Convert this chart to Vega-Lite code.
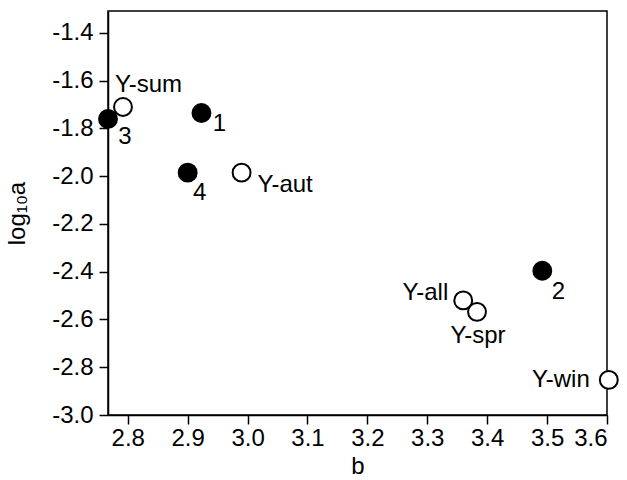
{
  "$schema": "https://vega.github.io/schema/vega-lite/v6.json",
  "width": 499,
  "height": 404,
  "autosize": {"type": "none"},
  "padding": {"left": 108, "top": 11, "right": 20, "bottom": 65},
  "background": "white",
  "config": {
    "font": "Liberation Sans",
    "view": {"stroke": "black", "strokeWidth": 1.5},
    "axis": {
      "domainColor": "black", "domainWidth": 1.5, "tickColor": "black", "tickWidth": 1.5, "tickSize": 9,
      "labelFont": "Liberation Sans", "labelFontSize": 24, "labelColor": "black",
      "titleFont": "Liberation Sans", "titleFontSize": 24, "titleColor": "black", "titleFontWeight": "normal",
      "grid": false
    }
  },
  "data": {"values": [
    {"label": "Y-sum", "b": 2.792, "loga": -1.71, "type": "open"},
    {"label": "3", "b": 2.767, "loga": -1.76, "type": "filled"},
    {"label": "1", "b": 2.923, "loga": -1.735, "type": "filled"},
    {"label": "4", "b": 2.9, "loga": -1.985, "type": "filled"},
    {"label": "Y-aut", "b": 2.99, "loga": -1.985, "type": "open"},
    {"label": "2", "b": 3.492, "loga": -2.396, "type": "filled"},
    {"label": "Y-all", "b": 3.36, "loga": -2.52, "type": "open"},
    {"label": "Y-spr", "b": 3.383, "loga": -2.568, "type": "open"},
    {"label": "Y-win", "b": 3.603, "loga": -2.853, "type": "open"}
  ]},
  "encoding": {
    "x": {"field": "b", "type": "quantitative",
      "scale": {"domain": [2.767, 3.6], "nice": false, "zero": false},
      "axis": {"values": [2.8, 2.9, 3.0, 3.1, 3.2, 3.3, 3.4, 3.5, 3.6], "format": ".1f", "title": "b", "labelPadding": 2, "titlePadding": 4}},
    "y": {"field": "loga", "type": "quantitative",
      "scale": {"domain": [-3.0, -1.308], "nice": false, "zero": false},
      "axis": {"values": [-3.0, -2.8, -2.6, -2.4, -2.2, -2.0, -1.8, -1.6, -1.4], "labelExpr": "replace(format(datum.value, '.1f'), '\u2212', '-')", "title": "log\u2081\u2080a", "labelPadding": 6, "titlePadding": 22}}
  },
  "layer": [
    {"mark": {"type": "point", "filled": true, "shape": "circle", "size": 320, "stroke": "black", "strokeWidth": 2, "opacity": 1},
     "encoding": {"fill": {"field": "type", "type": "nominal", "scale": {"domain": ["filled", "open"], "range": ["black", "white"]}, "legend": null}}},
    {"transform": [{"filter": "datum.label == '3'"}], "mark": {"type": "text", "fontSize": 24, "dx": 17, "dy": 18, "align": "center", "baseline": "middle", "color": "black"}, "encoding": {"text": {"field": "label"}}},
    {"transform": [{"filter": "datum.label == '1'"}], "mark": {"type": "text", "fontSize": 24, "dx": 18, "dy": 11, "align": "center", "baseline": "middle", "color": "black"}, "encoding": {"text": {"field": "label"}}},
    {"transform": [{"filter": "datum.label == '4'"}], "mark": {"type": "text", "fontSize": 24, "dx": 12, "dy": 20, "align": "center", "baseline": "middle", "color": "black"}, "encoding": {"text": {"field": "label"}}},
    {"transform": [{"filter": "datum.label == '2'"}], "mark": {"type": "text", "fontSize": 24, "dx": 16, "dy": 21, "align": "center", "baseline": "middle", "color": "black"}, "encoding": {"text": {"field": "label"}}},
    {"transform": [{"filter": "datum.label == 'Y-sum'"}], "mark": {"type": "text", "fontSize": 24, "dx": -8, "dy": -22, "align": "left", "baseline": "middle", "color": "black"}, "encoding": {"text": {"field": "label"}}},
    {"transform": [{"filter": "datum.label == 'Y-aut'"}], "mark": {"type": "text", "fontSize": 24, "dx": 16, "dy": 12, "align": "left", "baseline": "middle", "color": "black"}, "encoding": {"text": {"field": "label"}}},
    {"transform": [{"filter": "datum.label == 'Y-all'"}], "mark": {"type": "text", "fontSize": 24, "dx": -15, "dy": -7, "align": "right", "baseline": "middle", "color": "black"}, "encoding": {"text": {"field": "label"}}},
    {"transform": [{"filter": "datum.label == 'Y-spr'"}], "mark": {"type": "text", "fontSize": 24, "dx": 1, "dy": 24, "align": "center", "baseline": "middle", "color": "black"}, "encoding": {"text": {"field": "label"}}},
    {"transform": [{"filter": "datum.label == 'Y-win'"}], "mark": {"type": "text", "fontSize": 24, "dx": -19, "dy": 0, "align": "right", "baseline": "middle", "color": "black"}, "encoding": {"text": {"field": "label"}}}
  ]
}
